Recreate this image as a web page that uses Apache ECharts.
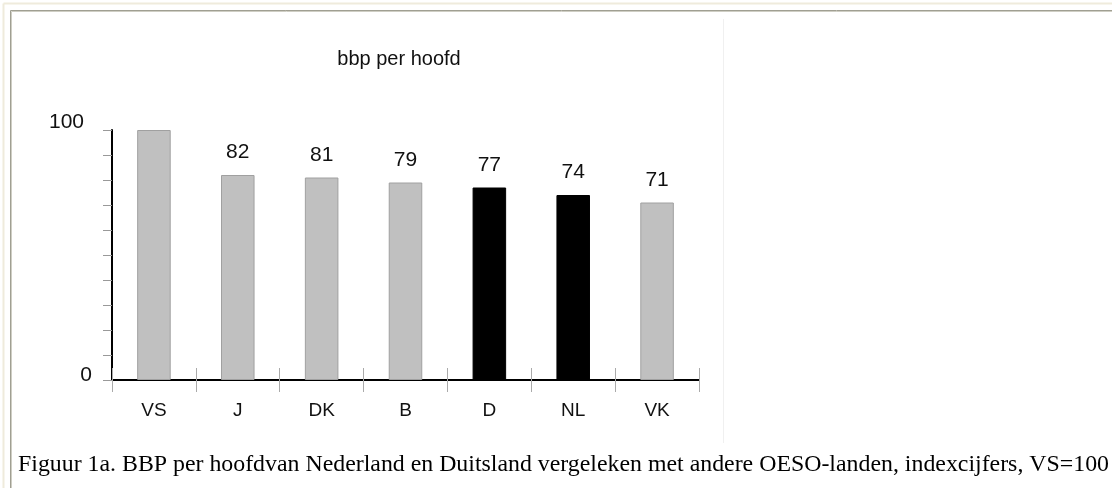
<!DOCTYPE html>
<html>
<head>
<meta charset="utf-8">
<title>bbp per hoofd</title>
<script src="https://cdn.jsdelivr.net/npm/echarts@6/dist/echarts.min.js"></script>
<style>
  html, body { margin: 0; padding: 0; background: #fff; }
  #chart { width: 1112px; height: 488px; }
</style>
</head>
<body>
<div id="chart"></div>
<script>
  // Index figures, VS = 100
  const countries = ["VS", "J", "DK", "B", "D", "NL", "VK"];
  const gdpIndex = [100, 82, 81, 79, 77, 74, 71];
  const highlighted = ["D", "NL"];
  const unlabelled = ["VS"];
  const yTickLabels = [0, 100];

  const chartTitle = "bbp per hoofd";
  const caption = "Figuur 1a. BBP per hoofdvan Nederland en Duitsland vergeleken met andere OESO-landen, indexcijfers, VS=100";

  const SANS = "'Liberation Sans', Arial, sans-serif";
  const SERIF = "'Liberation Serif', 'Times New Roman', serif";

  const chart = echarts.init(document.getElementById("chart"), null, { renderer: "canvas" });

  const barData = countries.map((c, i) => {
    const dark = highlighted.includes(c);
    return {
      value: gdpIndex[i],
      itemStyle: {
        color: dark ? "#000000" : "#c0c0c0",
        borderColor: dark ? "#000000" : "#a0a0a0",
        borderWidth: 1
      },
      label: { show: !unlabelled.includes(c) }
    };
  });

  chart.setOption({
    animation: false,
    backgroundColor: "#ffffff",
    grid: { left: 112, right: 413, top: 130, bottom: 108, outerBoundsMode: "none" },
    title: {
      text: chartTitle,
      left: 394,
      top: 44,
      textAlign: "center",
      textStyle: { fontFamily: SANS, fontSize: 20, fontWeight: "normal", color: "#111" }
    },
    xAxis: [
      {
        type: "category",
        data: countries,
        position: "bottom",
        axisLine: { lineStyle: { color: "#000", width: 2 } },
        axisTick: { show: true, length: 12, lineStyle: { color: "#aaaaaa", width: 1 } },
        axisLabel: { margin: 21, fontFamily: SANS, fontSize: 19, color: "#111" }
      },
      {
        type: "category",
        data: countries,
        position: "bottom",
        axisLine: { show: false },
        axisTick: { show: true, inside: true, length: 12, lineStyle: { color: "#aaaaaa", width: 1 } },
        axisLabel: { show: false }
      }
    ],
    yAxis: {
      type: "value",
      min: 0,
      max: 100,
      interval: 10,
      splitLine: { show: false },
      axisLine: { show: true, lineStyle: { color: "#000", width: 2 } },
      axisTick: { show: true, length: 9, lineStyle: { color: "#999999", width: 1 } },
      axisLabel: {
        margin: 20,
        formatter: (v) => {
          if (!yTickLabels.includes(v)) return "";
          return v === 0 ? "{lo|" + v + "}" : "{hi|" + v + "}";
        },
        rich: {
          lo: { fontFamily: SANS, fontSize: 21, color: "#111", padding: [0, 0, 10, 0] },
          hi: { fontFamily: SANS, fontSize: 21, color: "#111", padding: [0, 8, 16, 0] }
        }
      }
    },
    series: [
      {
        type: "bar",
        data: barData,
        barWidth: "40%",
        label: {
          position: "top",
          distance: 12,
          fontFamily: SANS,
          fontSize: 21,
          color: "#111"
        }
      }
    ],
    graphic: [
      // page frame
      { type: "line", shape: { x1: 3.5, y1: 3.5, x2: 1112, y2: 3.5 }, style: { stroke: "#efebdc", lineWidth: 2 } },
      { type: "line", shape: { x1: 3.5, y1: 3.5, x2: 3.5, y2: 488 }, style: { stroke: "#efebdc", lineWidth: 2 } },
      { type: "line", shape: { x1: 10.5, y1: 10.5, x2: 1112, y2: 10.5 }, style: { stroke: "#a09f92", lineWidth: 1 } },
      { type: "line", shape: { x1: 11.5, y1: 11.5, x2: 1112, y2: 11.5 }, style: { stroke: "#cfcec4", lineWidth: 1 } },
      { type: "line", shape: { x1: 10.5, y1: 10.5, x2: 10.5, y2: 488 }, style: { stroke: "#a09f92", lineWidth: 1 } },
      { type: "line", shape: { x1: 11.5, y1: 11.5, x2: 11.5, y2: 488 }, style: { stroke: "#cfcec4", lineWidth: 1 } },
      // edge of the embedded chart image
      { type: "line", shape: { x1: 723.5, y1: 19, x2: 723.5, y2: 443 }, style: { stroke: "#f0f0f0", lineWidth: 1 } },
      {
        type: "text",
        left: 18,
        top: 453,
        style: { text: caption, fontFamily: SERIF, fontSize: 23.85, fill: "#000" }
      }
    ]
  });
</script>
</body>
</html>
